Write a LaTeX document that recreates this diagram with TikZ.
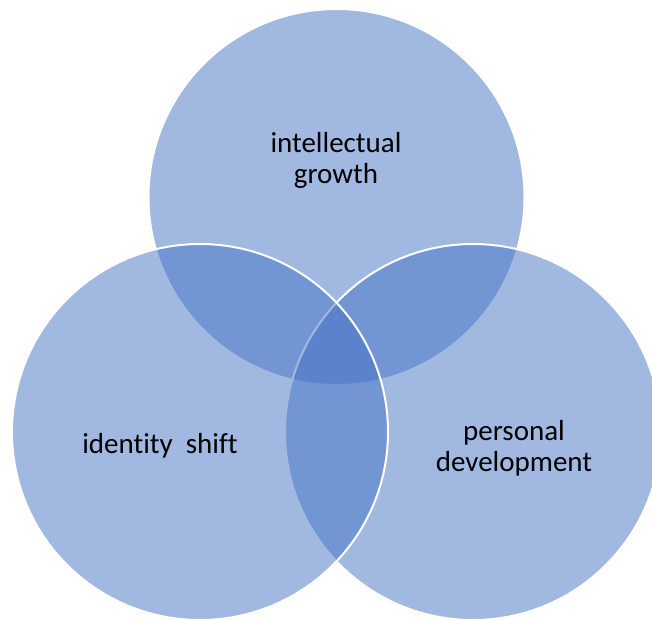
\documentclass[tikz,border=0pt]{standalone}
\usepackage{fontspec}
\setmainfont{Carlito}[Ligatures=NoCommon]
\definecolor{vennblue}{HTML}{4472C4}
\begin{document}
\begin{tikzpicture}[x=1pt,y=-1pt,
  vennset/.style={circle, inner sep=0pt, outer sep=0pt, minimum size=376pt,
    fill=vennblue, fill opacity=0.5, draw=white, draw opacity=1, line width=2pt},
  vennlabel/.style={font=\fontsize{29}{31}\selectfont, align=center,
    text=black, text opacity=1, inner sep=0pt, anchor=base}]
\useasboundingbox (0,0) rectangle (652,619);
\begin{scope}
  \clip (0,0) rectangle (652,619);
  % three overlapping sets, drawn back to front
  \node[vennset] (growth) at (336.5,197) {};
  \node[vennset] (personal) at (473,432) {};
  \node[vennset] (identity) at (200,432) {};
\end{scope}
% labels; the base anchor sits on the last line's baseline
\node[vennlabel] (tgrowth) at (336,183) {intellectual\\growth};
\node[vennlabel] (tidentity) at (160,453) {identity\ \ shift};
\node[vennlabel] (tpersonal) at (514,471) {personal\\development};
\end{tikzpicture}
\end{document}
